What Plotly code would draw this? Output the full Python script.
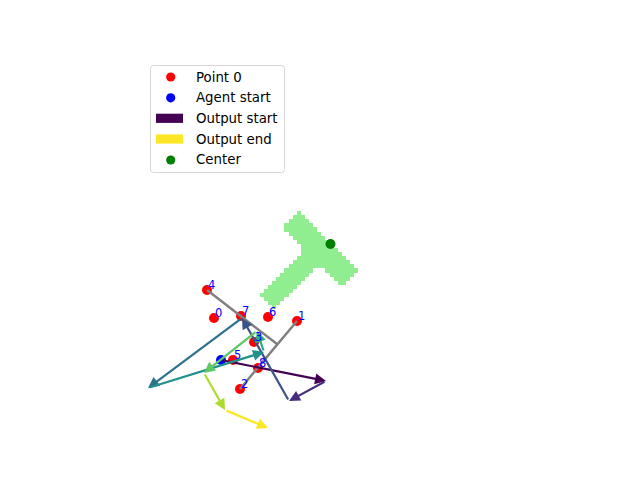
import numpy as np
import plotly.graph_objects as go

# ---- data (pixel-space units, y grows downward) ----
point_ids = [0, 1, 2, 3, 4, 5, 6, 7, 8]
point_x = [214, 297, 240, 254, 207, 233, 268, 241, 258]
point_y = [318, 321, 389, 342, 290, 360, 317, 316, 368]

agent_x = [221]
agent_y = [360]

center_x = [330.5]
center_y = [244]

traj_x = [221, 326, 289, 242, 148, 264, 257, 204, 225, 268]
traj_y = [360, 381, 401, 318, 388, 352, 331, 373, 410, 428]

gray_x = [[207, 277], [297, 240]]
gray_y = [[290, 344], [321, 389]]

viridis9 = ["#440154", "#472d7b", "#3b528b", "#2c728e", "#21918c",
            "#28ae80", "#5ec962", "#addc30", "#fde725"]

# T-shaped block (bar + stem) geometry
t_mid = (320.0, 249.3)
t_dir = (0.704, 0.710)
bar_len, bar_w = 86.0, 24.5
stem_len, stem_w = 74.5, 21.5
cell = 4.1
cell_x0, cell_y0 = 296.7, 211.0

# ---- rasterise T ----
ux, uy = t_dir
nx, ny = -uy, ux  # toward stem (down-left)
kx = np.arange(-12, 17)
ky = np.arange(-3, 26)
cx = cell_x0 + (kx + 0.5) * cell
cy = cell_y0 + (ky + 0.5) * cell
sub = (np.arange(4) + 0.5) / 4 - 0.5
z = []
for yy in cy:
    row = []
    for xx in cx:
        px_ = xx + sub[None, :] * cell
        py_ = yy + sub[:, None] * cell
        dx, dy = px_ - t_mid[0], py_ - t_mid[1]
        s = dx * ux + dy * uy
        t = dx * nx + dy * ny
        inside = ((np.abs(s) <= bar_len / 2) & (np.abs(t) <= bar_w / 2)) | \
                 ((np.abs(s) <= stem_w / 2) & (t >= 0) & (t <= stem_len))
        cov = inside.mean()
        row.append(1.0 if cov >= 0.45 else None)
    z.append(row)

fig = go.Figure()
fig.add_trace(go.Heatmap(x=cx, y=cy, z=z, colorscale=[[0, "#90ee90"], [1, "#90ee90"]],
                         showscale=False, hoverinfo="skip", zmin=0, zmax=1))
fig.add_trace(go.Scatter(x=agent_x, y=agent_y, mode="markers",
                         marker=dict(color="blue", size=10, line=dict(width=0))))
fig.add_trace(go.Scatter(x=point_x, y=point_y, mode="markers",
                         marker=dict(color="red", size=10, line=dict(width=0))))
for gx, gy in zip(gray_x, gray_y):
    fig.add_trace(go.Scatter(x=gx, y=gy, mode="lines",
                             line=dict(color="gray", width=2.5)))
fig.add_trace(go.Scatter(x=center_x, y=center_y, mode="markers",
                         marker=dict(color="green", size=10, line=dict(width=0))))

ann = []
for i in range(len(traj_x) - 1):
    ann.append(dict(x=traj_x[i + 1], y=traj_y[i + 1], ax=traj_x[i], ay=traj_y[i],
                    xref="x", yref="y", axref="x", ayref="y", text="",
                    showarrow=True, arrowhead=2, arrowsize=1.0, arrowwidth=2.2,
                    arrowcolor=viridis9[i], standoff=0, startstandoff=0))
for pid, x, y in zip(point_ids, point_x, point_y):
    ann.append(dict(x=x, y=y, xref="x", yref="y", text=str(pid), showarrow=False,
                    xanchor="left", yanchor="bottom", xshift=-1, yshift=-4,
                    font=dict(family="DejaVu Sans", size=11.5, color="blue")))

# ---- manual legend ----
W, H = 640.0, 480.0
def px(x):
    return x / W
def py(y):
    return 1 - y / H

shapes = []
lx0, ly0, lx1, ly1, r = 150.5, 65.5, 284.5, 172.5, 3
path = (f"M{px(lx0 + r)},{py(ly0)} L{px(lx1 - r)},{py(ly0)} Q{px(lx1)},{py(ly0)} {px(lx1)},{py(ly0 + r)} "
        f"L{px(lx1)},{py(ly1 - r)} Q{px(lx1)},{py(ly1)} {px(lx1 - r)},{py(ly1)} "
        f"L{px(lx0 + r)},{py(ly1)} Q{px(lx0)},{py(ly1)} {px(lx0)},{py(ly1 - r)} "
        f"L{px(lx0)},{py(ly0 + r)} Q{px(lx0)},{py(ly0)} {px(lx0 + r)},{py(ly0)} Z")
shapes.append(dict(type="path", xref="paper", yref="paper", path=path,
                   line=dict(color="#d6d6d6", width=1), fillcolor="rgba(255,255,255,0.8)"))

legend_labels = ["Point 0", "Agent start", "Output start", "Output end", "Center"]
legend_kind = ["dot", "dot", "rect", "rect", "dot"]
legend_color = ["red", "blue", viridis9[0], viridis9[-1], "green"]
legend_yc = [77, 97.8, 118.3, 139, 160]
for lab, kind, col, yc in zip(legend_labels, legend_kind, legend_color, legend_yc):
    if kind == "dot":
        shapes.append(dict(type="circle", xref="paper", yref="paper",
                           x0=px(170.7 - 4.6), x1=px(170.7 + 4.6), y0=py(yc + 4.6), y1=py(yc - 4.6),
                           fillcolor=col, line=dict(width=0)))
    else:
        shapes.append(dict(type="rect", xref="paper", yref="paper",
                           x0=px(156), x1=px(183), y0=py(yc + 4.6), y1=py(yc - 4.6),
                           fillcolor=col, line=dict(width=0)))
    ann.append(dict(x=px(194), y=py(yc), xref="paper", yref="paper", text=lab,
                    showarrow=False, xanchor="left", yanchor="middle",
                    font=dict(family="DejaVu Sans", size=13.33, color="black")))

fig.update_layout(
    width=640, height=480, margin=dict(l=0, r=0, t=0, b=0),
    paper_bgcolor="white", plot_bgcolor="white", showlegend=False,
    xaxis=dict(range=[0, 640], visible=False, fixedrange=True),
    yaxis=dict(range=[480, 0], visible=False, fixedrange=True),
    annotations=ann, shapes=shapes,
)
fig.write_html("out.html")
